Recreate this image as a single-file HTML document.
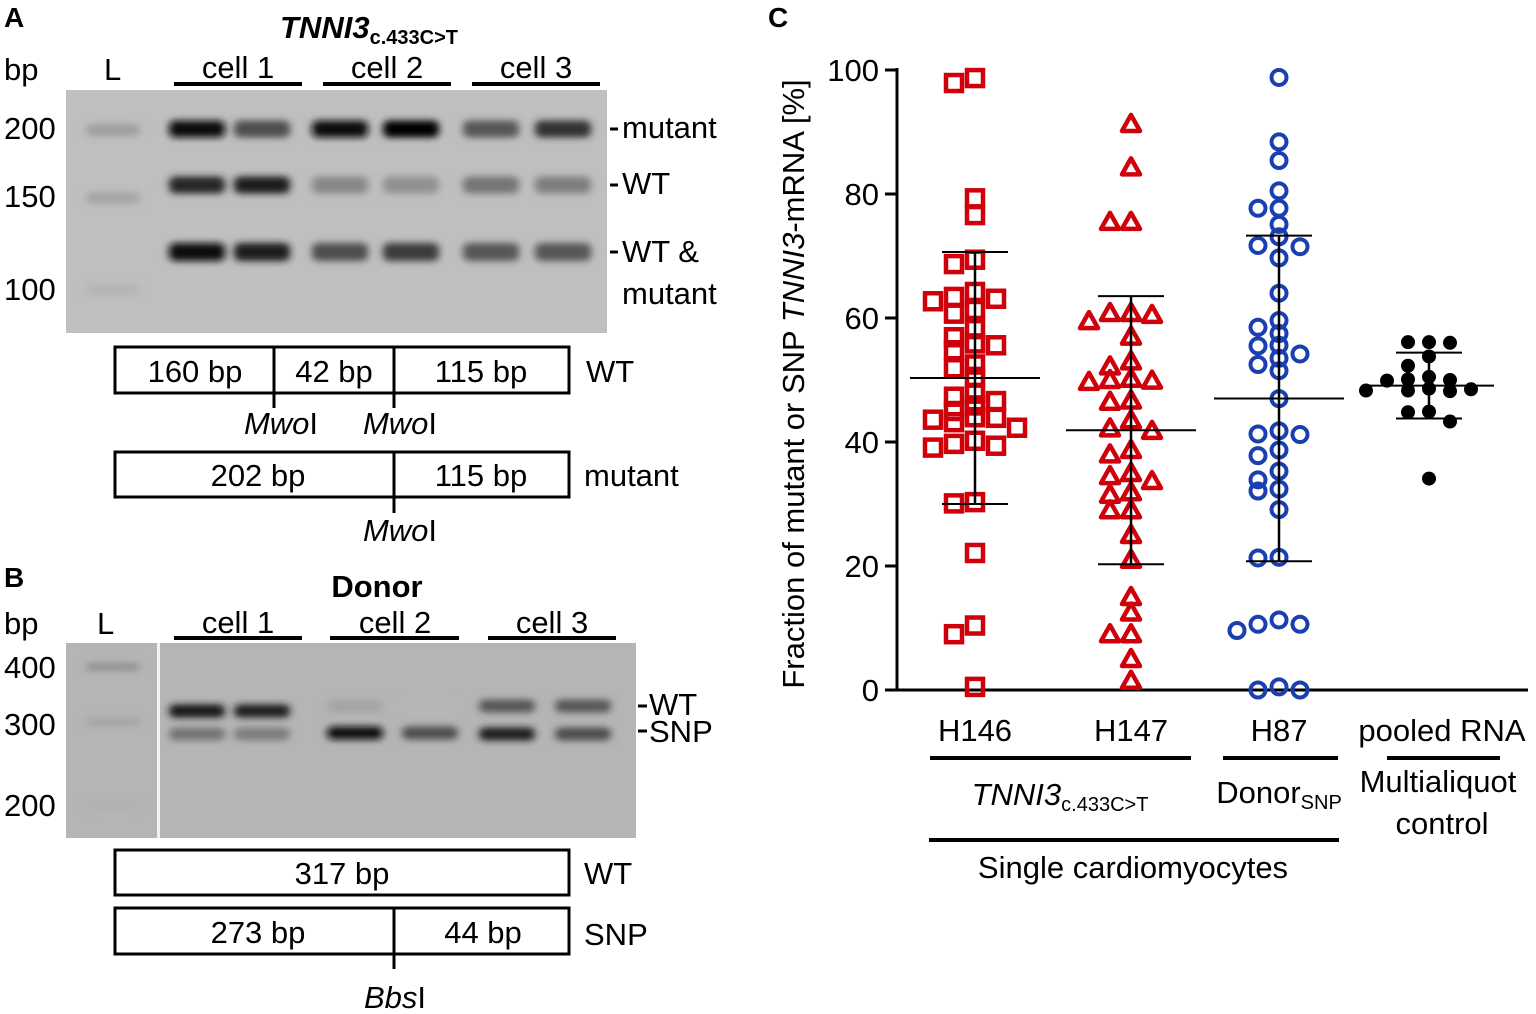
<!DOCTYPE html>
<html><head><meta charset="utf-8"><style>
html,body{margin:0;padding:0;background:#fff;}
svg{display:block;font-family:"Liberation Sans Narrow","Liberation Sans",Arial,sans-serif;}
text{fill:#000;}
</style></head><body>
<svg id="fig" width="1536" height="1014" viewBox="0 0 1536 1014" xmlns="http://www.w3.org/2000/svg">
<defs>
<filter id="blur" x="-50%" y="-150%" width="200%" height="400%"><feGaussianBlur stdDeviation="4 3.5"/></filter>
</defs>

<!-- Panel A -->
<g>
<text x="4" y="27" font-size="28" font-weight="bold" font-family="Liberation Sans">A</text>
<text x="280" y="38" font-size="31" font-weight="bold" font-style="italic">TNNI3<tspan font-size="20" font-style="normal" dy="6">c.433C&gt;T</tspan></text>
<g font-size="31">
<text x="4" y="80">bp</text>
<text x="104" y="80">L</text>
</g>
<g font-size="31" text-anchor="middle">
<text x="238" y="78">cell 1</text>
<text x="387" y="78">cell 2</text>
<text x="536" y="78">cell 3</text>
</g>
<g stroke="#000" stroke-width="4">
<line x1="174" y1="84" x2="302" y2="84"/>
<line x1="323" y1="84" x2="451" y2="84"/>
<line x1="472" y1="84" x2="600" y2="84"/>
</g>
<rect x="66" y="90" width="541" height="243" fill="#bfbfbf"/>
<g id="gelA"></g>
<g font-size="31">
<text x="4" y="139">200</text>
<text x="4" y="207">150</text>
<text x="4" y="300">100</text>
<text x="622" y="138">mutant</text>
<text x="622" y="194">WT</text>
<text x="622" y="262">WT &amp;</text>
<text x="622" y="304">mutant</text>
</g>
<g stroke="#000" stroke-width="3">
<line x1="610" y1="129" x2="618" y2="129"/><line x1="610" y1="185" x2="618" y2="185"/><line x1="610" y1="252" x2="618" y2="252"/>
</g>
<g stroke="#000" stroke-width="3" fill="none">
<rect x="115" y="347" width="454" height="46"/>
<line x1="274" y1="347" x2="274" y2="408"/><line x1="394" y1="347" x2="394" y2="408"/>
</g>
<g font-size="31" text-anchor="middle">
<text x="195" y="382">160 bp</text>
<text x="334" y="382">42 bp</text>
<text x="481" y="382">115 bp</text>
<text x="281" y="434"><tspan font-style="italic">Mwo</tspan>I</text>
<text x="400" y="434"><tspan font-style="italic">Mwo</tspan>I</text>
</g>
<text x="586" y="382" font-size="31">WT</text>
<g stroke="#000" stroke-width="3" fill="none">
<rect x="115" y="452" width="454" height="45"/>
<line x1="394" y1="452" x2="394" y2="513"/>
</g>
<g font-size="31" text-anchor="middle">
<text x="258" y="486">202 bp</text>
<text x="481" y="486">115 bp</text>
<text x="400" y="541"><tspan font-style="italic">Mwo</tspan>I</text>
</g>
<text x="584" y="486" font-size="31">mutant</text>
</g>

<!-- Panel B -->
<g>
<text x="4" y="587" font-size="28" font-weight="bold" font-family="Liberation Sans">B</text>
<text x="377" y="597" font-size="31" font-weight="bold" text-anchor="middle">Donor</text>
<g font-size="31">
<text x="4" y="634">bp</text>
<text x="97" y="634">L</text>
</g>
<g font-size="31" text-anchor="middle">
<text x="238" y="633">cell 1</text>
<text x="395" y="633">cell 2</text>
<text x="552" y="633">cell 3</text>
</g>
<g stroke="#000" stroke-width="4">
<line x1="174" y1="638" x2="302" y2="638"/><line x1="330" y1="638" x2="459" y2="638"/><line x1="488" y1="638" x2="616" y2="638"/>
</g>
<rect x="66" y="643" width="570" height="195" fill="#b5b5b5"/>
<g id="gelB"></g>
<rect x="157" y="643" width="3" height="195" fill="#f2f2f2"/>
<g font-size="31">
<text x="4" y="678">400</text>
<text x="4" y="735">300</text>
<text x="4" y="816">200</text>
<text x="649" y="715">WT</text>
<text x="649" y="742">SNP</text>
</g>
<g stroke="#000" stroke-width="3"><line x1="638" y1="706" x2="647" y2="706"/><line x1="638" y1="731" x2="647" y2="731"/></g>
<g stroke="#000" stroke-width="3" fill="none">
<rect x="115" y="850" width="454" height="45"/>
<rect x="115" y="908" width="454" height="46"/>
<line x1="394" y1="908" x2="394" y2="969"/>
</g>
<g font-size="31" text-anchor="middle">
<text x="342" y="884">317 bp</text>
<text x="258" y="943">273 bp</text>
<text x="483" y="943">44 bp</text>
<text x="395" y="1008"><tspan font-style="italic">Bbs</tspan>I</text>
</g>
<text x="584" y="884" font-size="31">WT</text>
<text x="584" y="945" font-size="31">SNP</text>
</g>

<!-- Panel C -->
<g>
<text x="768" y="27" font-size="28" font-weight="bold" font-family="Liberation Sans">C</text>
<text transform="translate(804,384) rotate(-90)" font-size="31" text-anchor="middle">Fraction of mutant or SNP <tspan font-style="italic">TNNI3</tspan>-mRNA [%]</text>
<g id="yaxis"></g>
<g id="marks"></g>
<g font-size="31" text-anchor="middle">
<text x="975" y="741">H146</text>
<text x="1131" y="741">H147</text>
<text x="1279" y="741">H87</text>
<text x="1442" y="741">pooled RNA</text>
<text x="1060" y="805"><tspan font-style="italic">TNNI3</tspan><tspan font-size="20" dy="6">c.433C&gt;T</tspan></text>
<text x="1279" y="803">Donor<tspan font-size="20" dy="6">SNP</tspan></text>
<text x="1438" y="792">Multialiquot</text>
<text x="1442" y="834">control</text>
<text x="1133" y="878">Single cardiomyocytes</text>
</g>
<g stroke="#000" stroke-width="4">
<line x1="930" y1="758" x2="1191" y2="758"/><line x1="1223" y1="758" x2="1338" y2="758"/><line x1="1387" y1="758" x2="1500" y2="758"/>
<line x1="929" y1="840" x2="1339" y2="840"/>
</g>
</g>
</svg>
<script>
// ---- Gel data ----
const gelALanes = [197, 262, 340, 411, 491, 563];
const gelAMutant = [0.95, 0.6, 0.95, 1.0, 0.55, 0.75];
const gelAWT = [0.8, 0.85, 0.3, 0.25, 0.4, 0.35];
const gelABoth = [0.95, 0.85, 0.6, 0.7, 0.55, 0.55];
const gelBLanes = [197, 262, 355, 430, 507, 583];
const gelBWT = [0.9, 0.85, 0.15, 0.05, 0.55, 0.55];
const gelBSNP = [0.4, 0.35, 0.95, 0.6, 0.85, 0.6];

// ---- Scatter data ----
const categories = ["H146", "H147", "H87", "pooled RNA"];
const h146 = [98.7,97.9,79.3,76.6,69.4,68.7,64.2,62.7,63.4,63.1,61.3,60.7,58.2,56.9,55.9,55.6,54.8,52.5,51.9,50.5,47.8,47.3,46.6,45.9,45.0,44.0,43.6,43.9,43.2,42.3,40.2,39.4,39.1,39.7,30.3,30.1,22.1,10.4,9.0,0.5];
const h147 = [91.3,84.3,75.5,75.5,60.8,60.5,60.8,59.5,57.0,53.0,52.2,50.0,49.7,49.9,50.2,46.7,46.5,43.5,42.2,41.8,38.7,38.0,35.0,34.5,33.7,31.5,31.9,29.0,29.0,25.0,21.0,15.0,12.5,9.0,9.0,5.0,1.5];
const h87 = [98.8,88.4,85.4,80.5,77.7,77.7,75.1,73.1,71.5,71.7,69.7,64.0,59.6,58.5,57.5,55.5,54.2,55.6,53.5,52.5,51.5,47.0,41.8,41.2,41.3,38.7,37.8,35.3,33.9,32.4,32.1,29.1,21.3,21.4,11.3,10.6,9.6,10.6,0.5,0,0];
const pooled = [56.1,56.0,56.1,53.8,52.3,50.5,49.9,50.0,50.1,48.2,48.6,48.3,48.5,48.3,44.8,44.9,43.3,34.1];
const yTicks = [0, 20, 40, 60, 80, 100];

const NS = "http://www.w3.org/2000/svg";
function mk(tag, attrs, parent) { const e = document.createElementNS(NS, tag); for (const k in attrs) e.setAttribute(k, attrs[k]); parent.appendChild(e); return e; }

function band(parent, x, y, w, h, inten) {
  const v = Math.round(192 - 190 * inten);
  const r = mk('rect', {x: x - w/2, y: y - h/2, width: w, height: h, rx: 6, fill: `rgb(${v},${v},${v})`, filter: 'url(#blur)'}, parent);
  
  
}
const gA = document.getElementById('gelA');
band(gA, 113, 130, 54, 12, 0.18); band(gA, 113, 198, 54, 12, 0.14); band(gA, 113, 290, 54, 12, 0.06);
gelALanes.forEach((x, i) => {
  band(gA, x, 129, 56, 17, gelAMutant[i]);
  band(gA, x, 185, 56, 17, gelAWT[i]);
  band(gA, x, 252, 56, 18, gelABoth[i]);
});
const gB = document.getElementById('gelB');
band(gB, 113, 667, 54, 8, 0.25); band(gB, 113, 722, 54, 8, 0.15); band(gB, 113, 806, 54, 8, 0.08);
gelBLanes.forEach((x, i) => {
  band(gB, x, 711 - (i < 2 ? 0 : 5), 56, 13, gelBWT[i]);
  band(gB, x, 734 - (i >= 2 && i < 4 ? 1 : 0), 56, 13, gelBSNP[i]);
});

// ---- Chart C ----
const X0 = 897, X1 = 1528, Y0 = 690, Y1 = 70;
const yScale = v => Y0 - (v / 100) * (Y0 - Y1);
const xCenters = [975, 1131, 1279, 1429];
const xScale = i => xCenters[i];
const yAx = document.getElementById('yaxis');
mk('line', {x1: X0, y1: Y1 - 2, x2: X0, y2: Y0 + 1.5, stroke: '#000', 'stroke-width': 3}, yAx);
mk('line', {x1: X0 - 1.5, y1: Y0, x2: X1, y2: Y0, stroke: '#000', 'stroke-width': 3}, yAx);
yTicks.forEach(t => {
  const y = yScale(t);
  mk('line', {x1: X0 - 12, y1: y, x2: X0, y2: y, stroke: '#000', 'stroke-width': 3}, yAx);
  const tx = mk('text', {x: X0 - 18, y: y + 11, 'font-size': 31, 'text-anchor': 'end'}, yAx);
  tx.textContent = t;
  
  
});

const marks = document.getElementById('marks');
const series = [h146, h147, h87, pooled];
const shapes = ['square', 'triangle', 'circle', 'dot'];
const colors = ['#d0000a', '#d0000a', '#1a3fb0', '#000'];
const step = 21, diam = 11;

function swarm(vals, cx) {
  const placed = [];
  const order = vals.map((v, i) => i).sort((a, b) => vals[b] - vals[a]);
  const res = new Array(vals.length);
  order.forEach(i => {
    const y = yScale(vals[i]);
    for (let k = 0; k < 20; k++) {
      const off = (k % 2 === 0 ? 1 : -1) * Math.ceil(k / 2);
      const x = cx + off * step;
      if (!placed.some(p => Math.abs(p[0] - x) < 1 && Math.abs(p[1] - y) < diam)) { placed.push([x, y]); res[i] = [x, y]; break; }
    }
  });
  return res;
}

series.forEach((vals, si) => {
  const cx = xScale(si);
  const g = mk('g', {}, marks);
  
  
  const pos = swarm(vals, cx);
  const col = colors[si];
  pos.forEach(([x, y]) => {
    let el;
    if (shapes[si] === 'square') el = mk('rect', {x: x - 8, y: y - 8, width: 16, height: 16, fill: 'none', stroke: col, 'stroke-width': 4.5}, g);
    else if (shapes[si] === 'triangle') el = mk('path', {d: `M${x},${y-9}L${x+9},${y+7}L${x-9},${y+7}Z`, fill: 'none', stroke: col, 'stroke-width': 4.5, 'stroke-linejoin': 'round'}, g);
    else if (shapes[si] === 'circle') el = mk('circle', {cx: x, cy: y, r: 7.5, fill: 'none', stroke: col, 'stroke-width': 4}, g);
    else el = mk('circle', {cx: x, cy: y, r: 7, fill: col}, g);
    
    
  });
  const n = vals.length;
  const mean = vals.reduce((a, b) => a + b, 0) / n;
  const sd = Math.sqrt(vals.reduce((a, b) => a + (b - mean) ** 2, 0) / (n - 1));
  const eg = mk('g', {stroke: '#000', 'stroke-width': 2}, marks);
  
  
  const ym = yScale(mean), yh = yScale(mean + sd), yl = yScale(mean - sd);
  mk('line', {x1: cx - 65, y1: ym, x2: cx + 65, y2: ym}, eg);
  mk('line', {x1: cx - 33, y1: yh, x2: cx + 33, y2: yh}, eg);
  mk('line', {x1: cx - 33, y1: yl, x2: cx + 33, y2: yl}, eg);
  mk('line', {x1: cx, y1: yh, x2: cx, y2: yl, 'stroke-width': 2.5}, eg);
});
</script>
</body></html>
